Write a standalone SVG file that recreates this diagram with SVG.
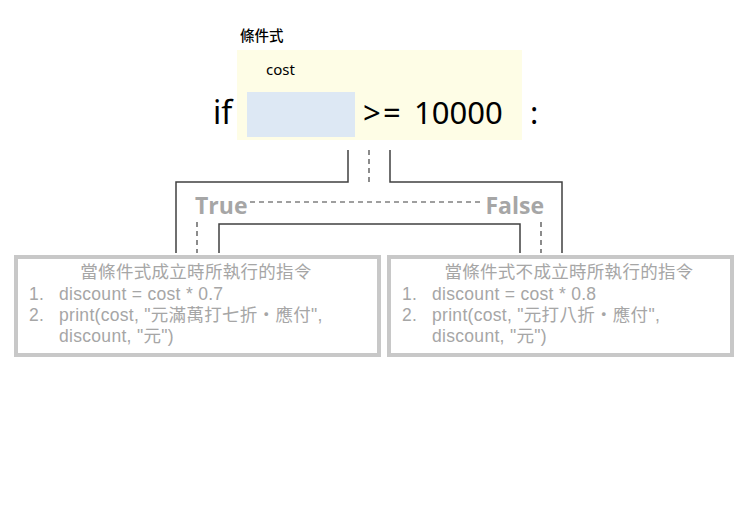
<svg xmlns="http://www.w3.org/2000/svg" width="741" height="522" viewBox="0 0 741 522">
<style>
.cn{fill:none;stroke:#404040;stroke-width:1.5}
.dash{fill:none;stroke:#404040;stroke-width:1.2;stroke-dasharray:5,4}
.box{fill:#fff;stroke:#c8c8c8;stroke-width:4}
.gt{font-family:"Liberation Sans","Noto Sans CJK TC",sans-serif;fill:#a6a6a6;font-size:17.5px;letter-spacing:0.3px}
.bk{font-family:"Noto Sans","Noto Sans CJK TC",sans-serif;fill:#000}
.tf{font-family:"Open Sans","Noto Sans",sans-serif;font-weight:bold;fill:#a6a6a6;font-size:23px}
</style>
<rect width="741" height="522" fill="#fff"/>
<g id="condition">
<text class="bk" x="240" y="41" font-size="14.5" font-weight="500">條件式</text>
<rect x="237" y="50" width="285" height="90" fill="#fefde6"/>
<rect x="247" y="92" width="108" height="45" fill="#dde8f4"/>
<text class="bk" x="266" y="75" font-size="15">cost</text>
<text class="bk" x="213" y="124" font-size="32">if</text>
<text class="bk" x="363" y="124" font-size="31">&gt;</text>
<text class="bk" x="383" y="124" font-size="31">=</text>
<text class="bk" x="414" y="124" font-size="31">10000</text>
<text class="bk" x="530" y="124" font-size="31">:</text>
</g>
<g id="connectors">
<polyline class="cn" points="348,150 348,182 176,182 176,253"/>
<polyline class="cn" points="390,150 390,182 562,182 562,253"/>
<polyline class="cn" points="219,253 219,224 520,224 520,253"/>
<line class="dash" x1="369" y1="150" x2="369" y2="182"/>
<line class="dash" x1="250" y1="202" x2="483" y2="202"/>
<line class="dash" x1="197" y1="222" x2="197" y2="253"/>
<line class="dash" x1="541" y1="222" x2="541" y2="253"/>
<text class="tf" x="195" y="214">True</text>
<text class="tf" x="544" y="214" text-anchor="end">False</text>
</g>
<g id="true-branch">
<rect class="box" x="16" y="257" width="363" height="98"/>
<text class="gt" x="196" y="278" text-anchor="middle">當條件式成立時所執行的指令</text>
<text class="gt" x="29" y="300">1.</text>
<text class="gt" x="59" y="300">discount = cost * 0.7</text>
<text class="gt" x="29" y="321">2.</text>
<text class="gt" x="59" y="321">print(cost, "元滿萬打七折・應付",</text>
<text class="gt" x="59" y="342">discount, "元")</text>
</g>
<g id="false-branch">
<rect class="box" x="389" y="257" width="343" height="98"/>
<text class="gt" x="569" y="278" text-anchor="middle">當條件式不成立時所執行的指令</text>
<text class="gt" x="402" y="300">1.</text>
<text class="gt" x="432" y="300">discount = cost * 0.8</text>
<text class="gt" x="402" y="321">2.</text>
<text class="gt" x="432" y="321">print(cost, "元打八折・應付",</text>
<text class="gt" x="432" y="342">discount, "元")</text>
</g>
</svg>
